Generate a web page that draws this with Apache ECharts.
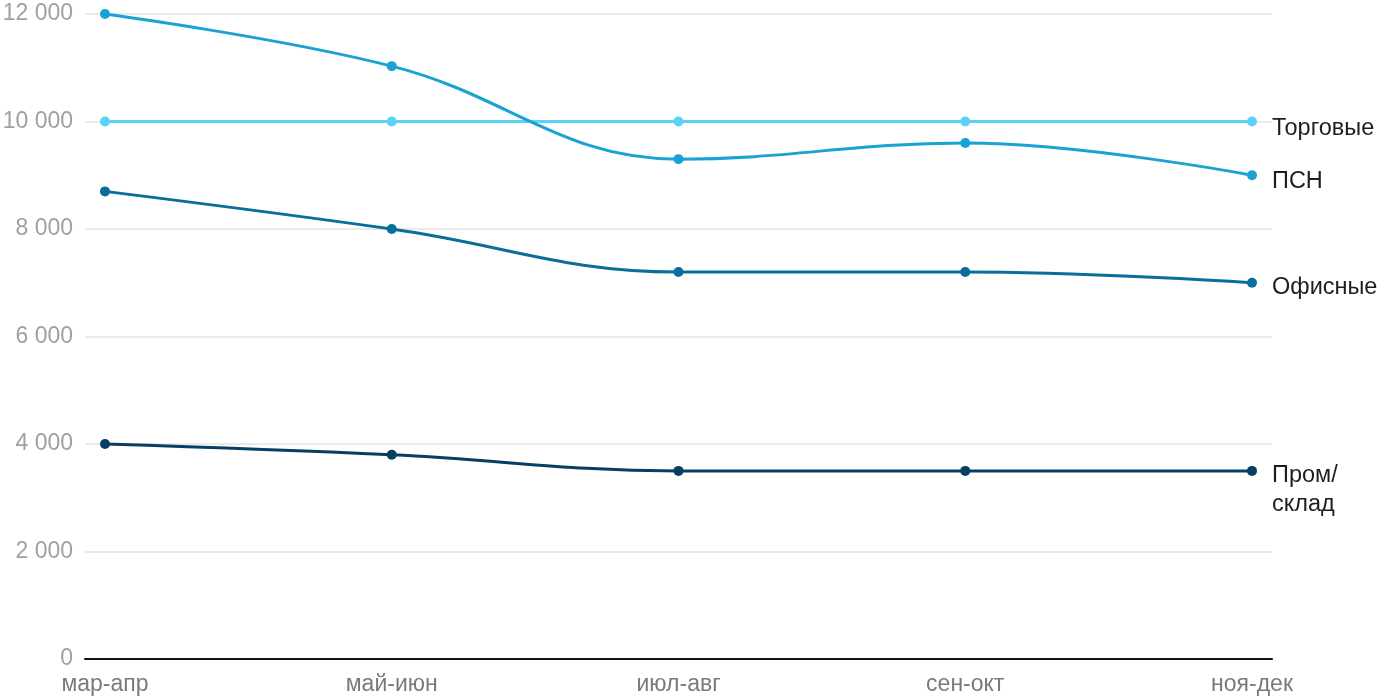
<!DOCTYPE html>
<html>
<head>
<meta charset="utf-8">
<script src="https://cdn.jsdelivr.net/npm/echarts@6/dist/echarts.min.js"></script>
<style>html,body{margin:0;padding:0;background:#fff}#c{width:1400px;height:700px}</style>
</head>
<body>
<div id="c"></div>
<script>
const categories = ['мар-апр', 'май-июн', 'июл-авг', 'сен-окт', 'ноя-дек'];
const torgovye = [10000, 10000, 10000, 10000, 10000];
const psn = [12000, 11030, 9300, 9600, 9000];
const ofisnye = [8700, 8000, 7200, 7200, 7000];
const promSklad = [4000, 3800, 3500, 3500, 3500];
const yTicks = [0, 2000, 4000, 6000, 8000, 10000, 12000];

const FONT = '"Liberation Sans", Arial, sans-serif';
const toPts = arr => arr.map((v, i) => [i, v]);
function mk(name, label, data, color, offY) {
  return {
    name, type: 'line', data: toPts(data), smooth: 0.4,
    symbol: 'circle', symbolSize: 10,
    lineStyle: {width: 3, color}, itemStyle: {color},
    emphasis: {disabled: true},
    endLabel: {show: true, formatter: label, distance: 20, offset: [0, offY],
      color: '#1e1e1e', fontSize: 23.5, fontFamily: FONT, lineHeight: 29, align: 'left'}
  };
}
const chart = echarts.init(document.getElementById('c'));
chart.setOption({
  animation: false,
  grid: {left: 85, right: 128, top: 14, bottom: 41, containLabel: false, outerBoundsMode: 'none'},
  xAxis: {
    type: 'value', min: -0.0697, max: 4.0697,
    axisLine: {show: true, onZero: false, lineStyle: {color: '#111', width: 2}},
    axisTick: {show: false},
    splitLine: {show: false},
    axisLabel: {customValues: [0, 1, 2, 3, 4], formatter: v => categories[Math.round(v)] || '',
      color: '#7a7a7a', fontSize: 23, fontFamily: FONT, margin: 14}
  },
  yAxis: {
    type: 'value', min: 0, max: 12000, interval: 2000,
    axisLine: {show: false}, axisTick: {show: false},
    splitLine: {lineStyle: {color: '#e3e3e3', width: 1.5}},
    axisLabel: {customValues: yTicks, formatter: v => v === 0 ? '0' : String(v).replace(/\B(?=(\d{3})+(?!\d))/g, ' '),
      color: '#a0a0a0', fontSize: 23, fontFamily: FONT, margin: 12}
  },
  series: [
    mk('Торговые', 'Торговые', torgovye, '#5dd2f8', 7),
    mk('ПСН', 'ПСН', psn, '#1aa2d2', 6),
    mk('Офисные', 'Офисные', ofisnye, '#0a6e9a', 5),
    mk('Пром/склад', 'Пром/\nсклад', promSklad, '#073f64', 19)
  ]
});
</script>
</body>
</html>
